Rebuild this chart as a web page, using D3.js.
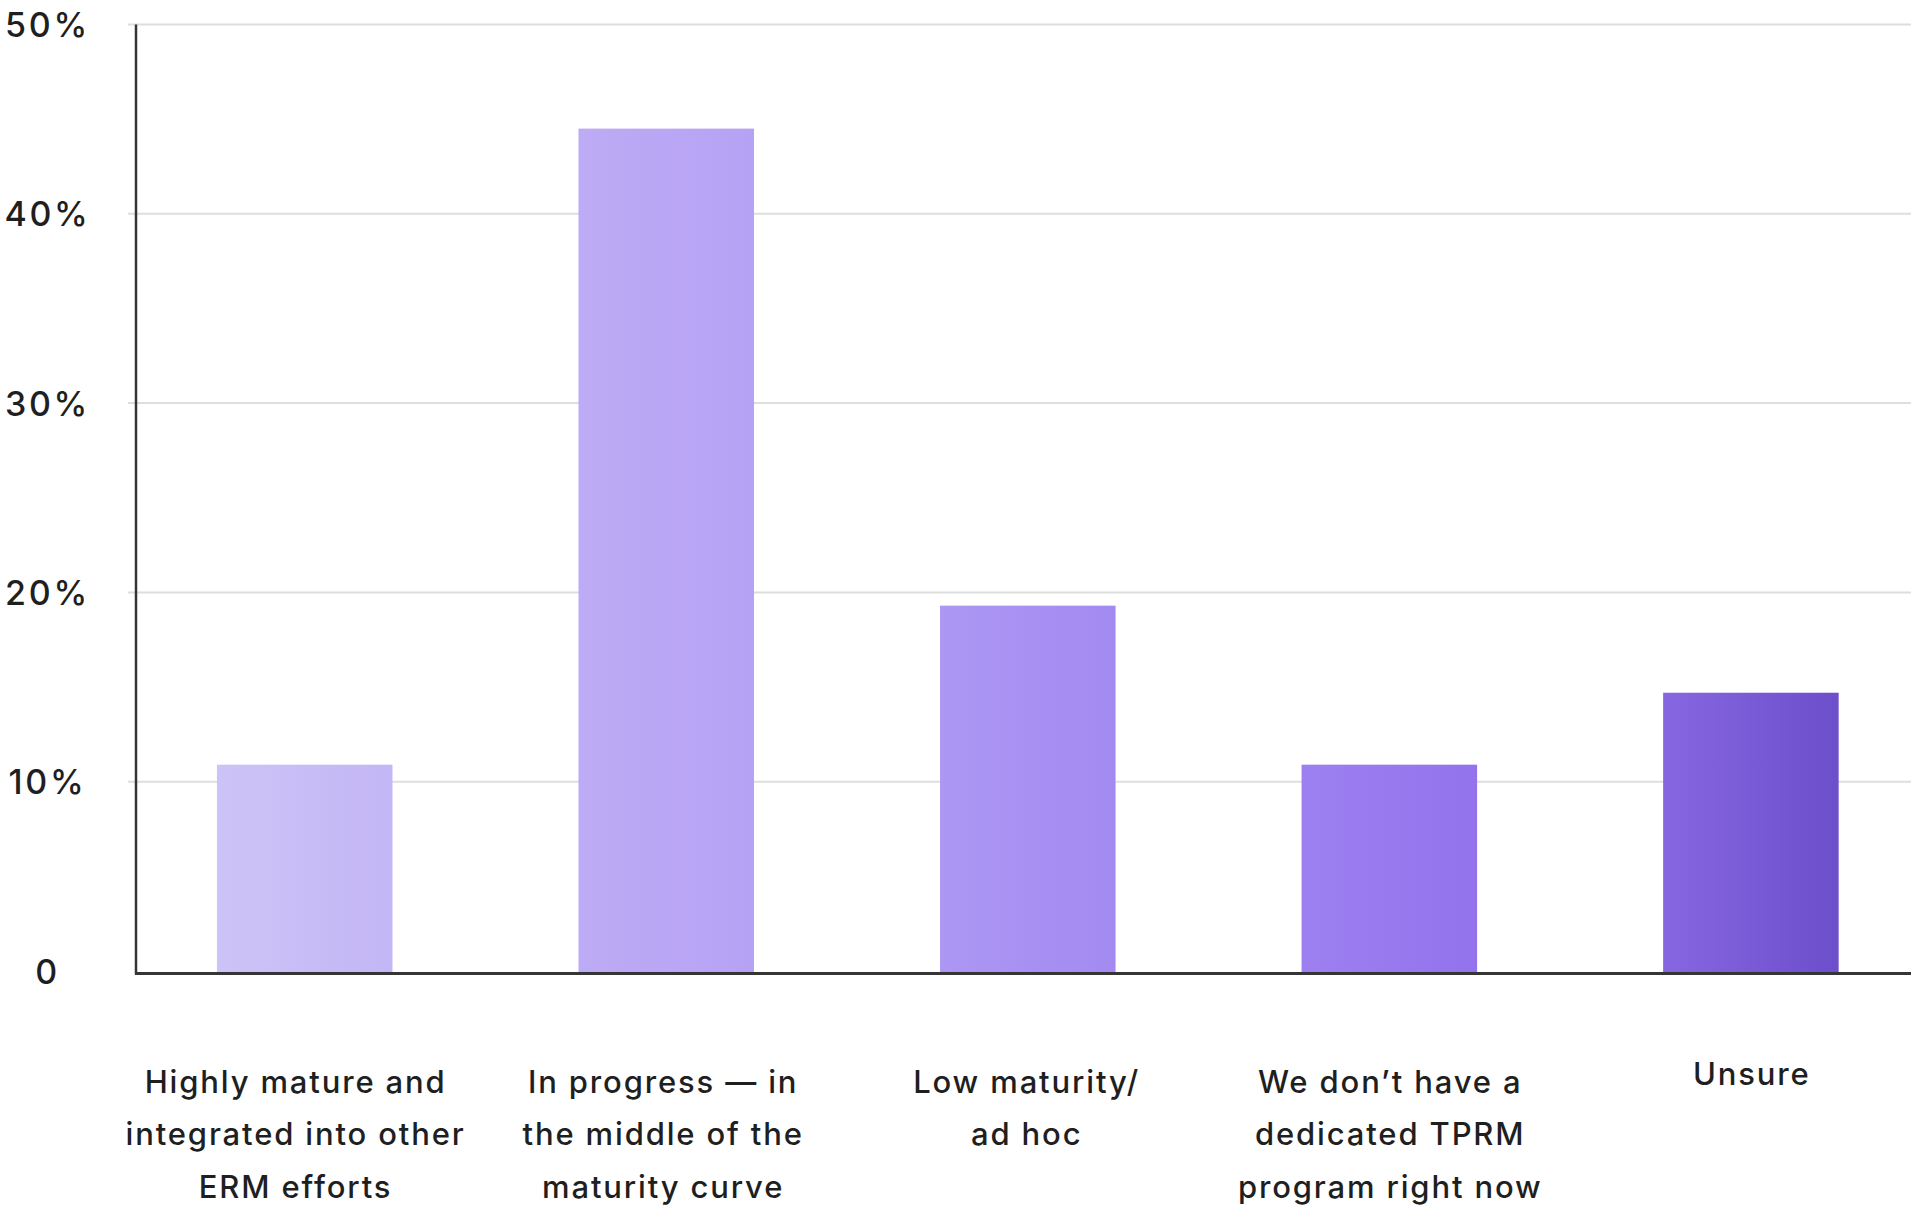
<!DOCTYPE html>
<html>
<head>
<meta charset="utf-8">
<script src="https://cdn.jsdelivr.net/npm/d3@7"></script>
<style>
  html, body { margin: 0; padding: 0; background: #ffffff; }
  svg { display: block; }
  text { font-family: Inter, "Noto Sans", sans-serif; fill: #1f1f1f; font-weight: 500; }
</style>
</head>
<body>
<svg id="chart" width="1911" height="1211"></svg>
<script>
// Survey answers: maturity of the third-party risk management programme
const categories = [
  "Highly mature and integrated into other ERM efforts",
  "In progress — in the middle of the maturity curve",
  "Low maturity/ ad hoc",
  "We don’t have a dedicated TPRM program right now",
  "Unsure"
];
const labelLines = [
  ["Highly mature and", "integrated into other", "ERM efforts"],
  ["In progress — in", "the middle of the", "maturity curve"],
  ["Low maturity/", "ad hoc"],
  ["We don’t have a", "dedicated TPRM", "program right now"],
  ["Unsure"]
];
const values = [10.9, 44.5, 19.3, 10.9, 14.7];   // percent of respondents
const yTicks = [0, 10, 20, 30, 40, 50];
const yTickLabels = ["0", "10%", "20%", "30%", "40%", "50%"];

// Horizontal gradient per bar (left colour, right colour)
const barGradients = [
  ["#cdc3f7", "#c3b6f5"],
  ["#bdabf5", "#b6a2f4"],
  ["#ac97f3", "#a38af1"],
  ["#9d80f0", "#9373ed"],
  ["#8767e1", "#6d4ecb"]
];
// Small horizontal nudges of the category label blocks
const labelShift = [-10, -4, -2, 0, 0];

const svg = d3.select("#chart");
const axisX = 136, plotRight = 1911;
const plotTop = 24.5, plotBase = 971;

const x = d3.scaleBand()
  .domain(categories)
  .range([axisX, plotRight])
  .paddingInner(0.5145)
  .paddingOuter(0.212)
  .align(0.528);

const y = d3.scaleLinear().domain([0, 50]).range([plotBase, plotTop]);

const defs = svg.append("defs");
barGradients.forEach((g, i) => {
  const lg = defs.append("linearGradient")
    .attr("id", "bar-grad-" + i)
    .attr("x1", "0%").attr("x2", "100%").attr("y1", "0%").attr("y2", "0%");
  lg.append("stop").attr("offset", "0%").attr("stop-color", g[0]);
  lg.append("stop").attr("offset", "100%").attr("stop-color", g[1]);
});

// Gridlines
svg.append("g")
  .selectAll("line")
  .data(yTicks.filter(d => d > 0))
  .join("line")
  .attr("x1", axisX - 8)
  .attr("x2", plotRight)
  .attr("y1", d => y(d))
  .attr("y2", d => y(d))
  .attr("stroke", "#dedede")
  .attr("stroke-width", 2);

// Y tick labels
svg.append("g")
  .selectAll("text")
  .data(yTicks)
  .join("text")
  .attr("x", 47.5)
  .attr("y", d => y(d))
  .attr("text-anchor", "middle")
  .attr("dominant-baseline", "central")
  .attr("font-size", 34)
  .attr("letter-spacing", 2.7)
  .text((d, i) => yTickLabels[i]);

// Bars
svg.append("g")
  .selectAll("rect")
  .data(values)
  .join("rect")
  .attr("x", (d, i) => x(categories[i]))
  .attr("width", x.bandwidth())
  .attr("y", d => y(d))
  .attr("height", d => y(0) - y(d) + 2)
  .attr("fill", (d, i) => "url(#bar-grad-" + i + ")");

// Axis lines
svg.append("line")
  .attr("x1", axisX).attr("x2", axisX)
  .attr("y1", plotTop).attr("y2", plotBase + 3.5)
  .attr("stroke", "#353535").attr("stroke-width", 2.5);
svg.append("line")
  .attr("x1", axisX - 1).attr("x2", plotRight)
  .attr("y1", plotBase + 2.5).attr("y2", plotBase + 2.5)
  .attr("stroke", "#353535").attr("stroke-width", 3);

// Category labels
const lineGap = 52.4;
const labels = svg.append("g")
  .selectAll("text")
  .data(labelLines)
  .join("text")
  .attr("x", (d, i) => x(categories[i]) + x.bandwidth() / 2 + labelShift[i] + 0.9)
  .attr("y", d => d.length > 1 ? 1093 : 1085)
  .attr("text-anchor", "middle")
  .attr("font-size", 31)
  .attr("letter-spacing", 1.85);
labels.selectAll("tspan")
  .data(d => d)
  .join("tspan")
  .attr("x", function () { return d3.select(this.parentNode).attr("x"); })
  .attr("dy", (d, i) => i === 0 ? 0 : lineGap)
  .text(d => d);
</script>
</body>
</html>
